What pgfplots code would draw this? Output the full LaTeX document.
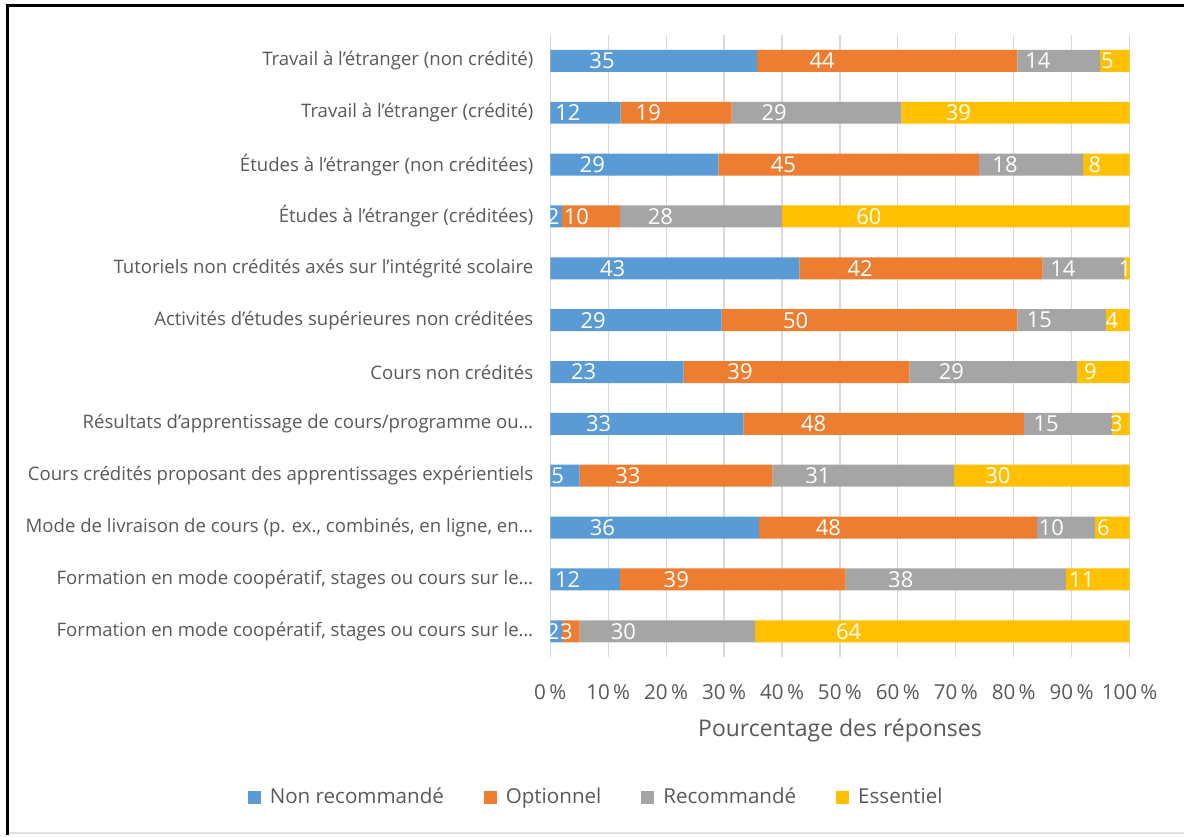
\documentclass[border=0pt]{standalone}
\usepackage{pgfplots}
\usepackage{pgfplotstable}
\usepackage{fontspec}
\setmainfont{Open Sans}
\pgfplotsset{compat=1.18}
\definecolor{cblue}{HTML}{5B9BD5}
\definecolor{corange}{HTML}{ED7D31}
\definecolor{cgray}{HTML}{A5A5A5}
\definecolor{cyellow}{HTML}{FFC000}
\definecolor{ctext}{HTML}{595959}
\definecolor{cgrid}{HTML}{D9D9D9}

% idx: 0 = top category; nX = share of the bar (percent), rX = label shown
\pgfplotstableread{
idx n1 n2 n3 n4 r1 r2 r3 r4
0 35.71 44.90 14.29 5.10 35 44 14 5
1 12.12 19.19 29.29 39.39 12 19 29 39
2 29.00 45.00 18.00 8.00 29 45 18 8
3 2.00 10.00 28.00 60.00 2 10 28 60
4 43.00 42.00 14.00 1.00 43 42 14 1
5 29.59 51.02 15.31 4.08 29 50 15 4
6 23.00 39.00 29.00 9.00 23 39 29 9
7 33.33 48.48 15.15 3.03 33 48 15 3
8 5.05 33.33 31.31 30.30 5 33 31 30
9 36.00 48.00 10.00 6.00 36 48 10 6
10 12.00 39.00 38.00 11.00 12 39 38 11
11 2.02 3.03 30.30 64.65 2 3 30 64
}\datatable

\begin{document}
\begin{tikzpicture}
\fill[white] (0,0) rectangle (592.5pt,-418pt);
\draw[black, line width=1.5pt] (3.5pt,-2.75pt) -- (592.5pt,-2.75pt);
\draw[black, line width=1.5pt] (4pt,-2pt) -- (4pt,-418pt);
\draw[black!12, line width=0.8pt] (4.75pt,-417pt) -- (592.5pt,-417pt);
\begin{axis}[
  at={(275.5pt,-329pt)}, anchor=south west,
  scale only axis, width=290pt, height=311.5pt,
  xbar stacked, bar width=11pt,
  xmin=0, xmax=100, ymin=-0.5, ymax=11.5,
  y dir=reverse,
  axis line style={draw=none},
  major tick length=0pt,
  xmajorgrids, major grid style={cgrid, line width=0.6pt},
  /pgf/number format/assume math mode=true,
  xtick={0,10,...,100},
  xticklabels={0\,\%,10\,\%,20\,\%,30\,\%,40\,\%,50\,\%,60\,\%,70\,\%,80\,\%,90\,\%,100\,\%},
  xticklabel style={font=\fontsize{10.3}{12}\selectfont, text=ctext},
  xtick pos=bottom,
  x tick label style={yshift=-10pt},
  xlabel={Pourcentage des réponses},
  xlabel style={font=\fontsize{11.5}{13}\selectfont, text=ctext, yshift=-3pt},
  ytick={0,...,11},
  yticklabels={
    {Travail à l’étranger (non crédité)},
    {Travail à l’étranger (crédité)},
    {Études à l’étranger (non créditées)},
    {Études à l’étranger (créditées)},
    {Tutoriels non crédités axés sur l’intégrité scolaire},
    {Activités d’études supérieures non créditées},
    {Cours non crédités},
    {Résultats d’apprentissage de cours/programme ou…},
    {Cours crédités proposant des apprentissages expérientiels},
    {Mode de livraison de cours (p. ex., combinés, en ligne, en…},
    {Formation en mode coopératif, stages ou cours sur le…},
    {Formation en mode coopératif, stages ou cours sur le…}},
  yticklabel style={font=\fontsize{9.3}{11}\selectfont, text=ctext},
  ytick pos=left,
  y tick label style={xshift=-5pt},
  point meta=explicit,
  nodes near coords={\pgfmathprintnumber{\pgfplotspointmeta}},
  every node near coord/.append style={font=\fontsize{11}{13}\selectfont, text=white, anchor=center, inner sep=0pt, xshift=\mhalf*1.45pt},
  legend columns=-1,
  legend style={at={(0.081,-0.2247)}, anchor=center, draw=none, fill=none,
    font=\fontsize{10.3}{12}\selectfont, text=ctext,
    /tikz/every odd column/.append style={column sep=2.5pt},
    /tikz/every even column/.append style={column sep=18pt}},
  legend image code/.code={\fill[#1] (0pt,-3.25pt) rectangle (6.5pt,3.25pt);},
]
\addplot[fill=cblue, draw=none, visualization depends on={-\thisrow{n1}/2 \as \mhalf}] table[x=n1, y=idx, meta=r1] {\datatable};
\addplot[fill=corange, draw=none, visualization depends on={-\thisrow{n2}/2 \as \mhalf}] table[x=n2, y=idx, meta=r2] {\datatable};
\addplot[fill=cgray, draw=none, visualization depends on={-\thisrow{n3}/2 \as \mhalf}] table[x=n3, y=idx, meta=r3] {\datatable};
\addplot[fill=cyellow, draw=none, visualization depends on={-\thisrow{n4}/2 \as \mhalf}] table[x=n4, y=idx, meta=r4] {\datatable};
\legend{Non recommandé, Optionnel, Recommandé, Essentiel}
\end{axis}
\end{tikzpicture}
\end{document}
